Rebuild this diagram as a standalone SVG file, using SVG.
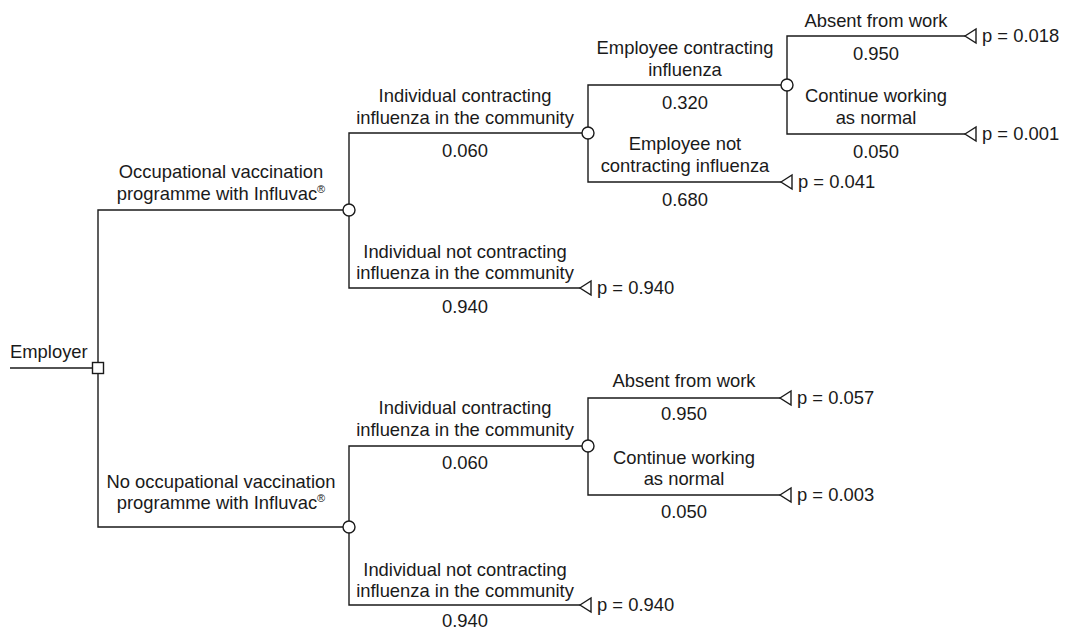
<svg xmlns="http://www.w3.org/2000/svg" width="1066" height="629" viewBox="0 0 1066 629">
<style>
text{font-family:"Liberation Sans",Arial,sans-serif;font-size:18.4px;fill:#1a1a1a}
.c{text-anchor:middle}
.ln{fill:none;stroke:#1a1a1a;stroke-width:1.4}
.nd{fill:#fff;stroke:#1a1a1a;stroke-width:1.4}
.sup{font-size:11px}
</style>
<defs>
<polygon id="tri" points="0,0 11,-7 11,7" class="nd"/>
</defs>
<g id="connectors">
<path class="ln" d="M10,368 H92"/>
<path class="ln" d="M343,210 H98 V527 H343"/>
<path class="ln" d="M582,133 H349 V288 H580"/>
<path class="ln" d="M781,85 H588 V182 H781"/>
<path class="ln" d="M965,36 H787 V134 H965"/>
<path class="ln" d="M582,446 H349 V605 H580"/>
<path class="ln" d="M780,398 H588 V495 H780"/>
</g>
<g id="employer">
<text x="10" y="358">Employer</text>
<rect class="nd" x="92.5" y="362.5" width="11" height="11"/>
</g>
<g id="vacc">
<circle class="nd" cx="349" cy="210" r="6"/>
<text class="c" x="221" y="178">Occupational vaccination</text>
<text class="c" x="221" y="200">programme with Influvac<tspan class="sup" dy="-7">®</tspan></text>
</g>
<g id="novacc">
<circle class="nd" cx="349" cy="527" r="6"/>
<text class="c" x="221" y="488">No occupational vaccination</text>
<text class="c" x="221" y="509">programme with Influvac<tspan class="sup" dy="-7">®</tspan></text>
</g>
<g id="ind1">
<circle class="nd" cx="588" cy="133" r="6"/>
<text class="c" x="465" y="102">Individual contracting</text>
<text class="c" x="465" y="124">influenza in the community</text>
<text class="c" x="465" y="157">0.060</text>
</g>
<g id="emp1">
<circle class="nd" cx="787" cy="85" r="6"/>
<text class="c" x="685" y="54">Employee contracting</text>
<text class="c" x="685" y="76">influenza</text>
<text class="c" x="685" y="109">0.320</text>
</g>
<g id="t1">
<use href="#tri" x="965" y="36"/>
<text class="c" x="876" y="27">Absent from work</text>
<text class="c" x="876" y="60">0.950</text>
<text x="982" y="42">p = 0.018</text>
</g>
<g id="t2">
<use href="#tri" x="965" y="134"/>
<text class="c" x="876" y="102">Continue working</text>
<text class="c" x="876" y="124">as normal</text>
<text class="c" x="876" y="158">0.050</text>
<text x="982" y="140">p = 0.001</text>
</g>
<g id="t3">
<use href="#tri" x="781" y="182"/>
<text class="c" x="685" y="150">Employee not</text>
<text class="c" x="685" y="172">contracting influenza</text>
<text class="c" x="685" y="206">0.680</text>
<text x="798" y="188">p = 0.041</text>
</g>
<g id="t4">
<use href="#tri" x="580" y="288"/>
<text class="c" x="465" y="258">Individual not contracting</text>
<text class="c" x="465" y="279">influenza in the community</text>
<text class="c" x="465" y="313">0.940</text>
<text x="597" y="294">p = 0.940</text>
</g>
<g id="ind2">
<circle class="nd" cx="588" cy="446" r="6"/>
<text class="c" x="465" y="414">Individual contracting</text>
<text class="c" x="465" y="436">influenza in the community</text>
<text class="c" x="465" y="469">0.060</text>
</g>
<g id="t5">
<use href="#tri" x="780" y="398"/>
<text class="c" x="684" y="387">Absent from work</text>
<text class="c" x="684" y="420">0.950</text>
<text x="797" y="404">p = 0.057</text>
</g>
<g id="t6">
<use href="#tri" x="780" y="495"/>
<text class="c" x="684" y="464">Continue working</text>
<text class="c" x="684" y="485">as normal</text>
<text class="c" x="684" y="518">0.050</text>
<text x="797" y="501">p = 0.003</text>
</g>
<g id="t7">
<use href="#tri" x="580" y="605"/>
<text class="c" x="465" y="576">Individual not contracting</text>
<text class="c" x="465" y="597">influenza in the community</text>
<text class="c" x="465" y="627">0.940</text>
<text x="597" y="611">p = 0.940</text>
</g>
</svg>
